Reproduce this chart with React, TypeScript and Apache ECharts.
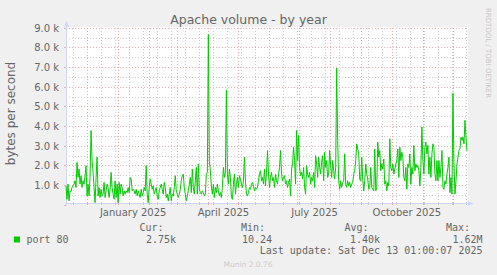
import { useEffect, useRef } from "react";
import * as echarts from "echarts";

// one value per day (bytes per second), starting 2024-11-10
const startDate = "2024-11-10";
const port80: number[] = [
  // Nov 10 2024 – Jan 16 2025
  970, 290, 1060, 210, 720, 680, 890, 970, 1060, 1230, 890, 2170, 1400, 1830, 1060, 1490, 890, 1230, 1060, 1490,
  2000, 460, 1060, 460, 1400, 3790, 2260, 1660, 890, 120, 1400, 2430, 460, 890, 380, 800, 460, 550, 1150, 380,
  720, 1060, 890, 380, 800, 1660, 890, 550, 290, 1230, 380, 1060, 120, 1150, 550, 1060, 890, 460, 720, 550,
  720, 630, 890, 630, 1400, 1320, 720, 800,
  // Jan 17 – Apr 1 2025
  720, 550, 800, 460, 720, 550, 380, 800, 460, 630, 890, 720, 2000, 550, 120, 890, 1320, 1060, 800, 970,
  550, 720, 890, 460, 290, 720, 890, 1060, 800, 550, 1150, 890, 380, 550, 210, 550, 890, 210, 550, 460,
  890, 1490, 720, 550, 380, 550, 800, 1230, 1490, 1570, 890, 550, 210, 460, 720, 1060, 1400, 630, 1830, 890,
  550, 1230, 1910, 550, 2090, 800, 630, 550, 720, 630, 460, 550, 1570, 1660, 8670,
  // Apr 2 – Jun 15 2025
  2260, 1740, 970, 550, 1060, 380, 890, 630, 1060, 720, 460, 630, 380, 890, 1910, 1400, 1660, 5850, 1570, 1060,
  1830, 1400, 380, 290, 1060, 1570, 550, 1060, 1400, 890, 1490, 1320, 1060, 890, 1230, 2430, 1230, 550, 460, 630,
  890, 800, 1060, 1150, 970, 720, 890, 800, 890, 1230, 1570, 1740, 1230, 1400, 1060, 1830, 970, 1660, 2770, 1570,
  890, 1400, 1660, 1230, 1400, 890, 1570, 1230, 1060, 1570, 1910, 2770, 1570, 1230, 1400,
  // Jun 16 – Aug 29 2025
  1490, 1060, 1230, 890, 1150, 1320, 460, 1830, 2090, 2940, 2260, 1060, 3790, 2260, 3540, 1910, 1490, 1660, 1320, 1910,
  890, 550, 2000, 1570, 1400, 1660, 1060, 1400, 1230, 1660, 890, 2510, 2090, 1400, 2430, 1910, 1570, 2170, 2510, 1230,
  2680, 1910, 2260, 1400, 1570, 2770, 2000, 1400, 2260, 1740, 1320, 1910, 6960, 3280, 1230, 800, 1230, 890, 1150, 1230,
  2600, 1060, 890, 1230, 970, 1150, 890, 1060, 1150, 1570, 1740, 2260, 3110, 2850, 2600,
  // Aug 30 – Oct 28 2025
  1320, 1230, 2430, 1320, 720, 1230, 2090, 1570, 1320, 800, 890, 1910, 890, 800, 720, 2850, 720, 890, 3200, 2430,
  2770, 1740, 2090, 1830, 2340, 1060, 1230, 720, 1150, 970, 3370, 1910, 1740, 2090, 1570, 1830, 2090, 2260, 2850, 1400,
  2940, 2260, 2680, 2430, 1400, 1230, 1910, 800, 2090, 1910, 2600, 1060, 1910, 1570, 3030, 1740, 2090, 1910, 2000, 1740,
  // Oct 29 – Dec 15 2025
  970, 1910, 3970, 2260, 1570, 2940, 3200, 2600, 3030, 1570, 2430, 1400, 2600, 3110, 2940, 1570, 1230, 2260, 1230, 2260,
  1400, 1910, 2770, 890, 800, 1230, 1060, 1570, 1910, 2430, 630, 1400, 550, 5680, 2090, 550, 1230, 2090, 2430, 2770,
  2850, 3450, 3280, 3450, 3110, 4310, 3450, 2750,
];

const quarterLabelDates = ["2025-01-16", "2025-04-16", "2025-07-16", "2025-10-16"];
const quarterLabels = ["January 2025", "April 2025", "July 2025", "October 2025"];
const statNames = ["Cur:", "Min:", "Avg:", "Max:"];
const statValues = ["2.75k", "10.24", "1.40k", "1.62M"];
const seriesName = "port 80";
const titleText = "Apache volume - by year";
const yAxisTitle = "bytes per second";
const lastUpdate = "Last update: Sat Dec 13 01:00:07 2025";
const credit = "RRDTOOL / TOBI OETIKER";
const version = "Munin 2.0.76";

const DAY = 86400000;
const t0 = Date.parse(startDate + "T00:00:00Z");
const days = port80.map((_, i) => new Date(t0 + i * DAY).toISOString().slice(0, 10));
const labelMap: Record<string, string> = {};
quarterLabelDates.forEach((d, i) => (labelMap[d] = quarterLabels[i]));
const isMonthStart = (i: number) => days[i] !== undefined && days[i].endsWith("-01");
const isBiweekly = (i: number) => i >= 7 && (i - 7) % 14 === 0;

const FONT = "DejaVu Sans";
const MONO = "DejaVu Sans Mono";
const AXIS = "#CFD6F8";
const MGRID = "#eeaaaa";
const GRID = "#cccccc";
const TEXT = "#666666";
const GREEN = "#00CC00";

export default function App() {
  const ref = useRef<HTMLDivElement>(null);
  useEffect(() => {
    if (!ref.current) return;
    const chart = echarts.init(ref.current, undefined, { renderer: "svg" });
    const statRight = [163.5, 265, 368.5, 470];
    const valRight = [176, 272, 380, 482.5];
    const graphic: any[] = [
      { type: "rect", z: -1, shape: { x: 66, y: 27, width: 402, height: 176 }, style: { fill: "#ffffff" } },
      { type: "line", z: 5, shape: { x1: 66.5, y1: 28, x2: 66.5, y2: 26 }, style: { stroke: AXIS, lineWidth: 1 } },
      { type: "polygon", z: 5, shape: { points: [[66.5, 21], [64, 26.5], [69, 26.5]] }, style: { fill: AXIS } },
      { type: "line", z: 5, shape: { x1: 466, y1: 203.5, x2: 468.5, y2: 203.5 }, style: { stroke: AXIS, lineWidth: 1 } },
      { type: "polygon", z: 5, shape: { points: [[468, 201], [468, 206], [473.5, 203.5]] }, style: { fill: AXIS } },
      { type: "text", x: 248.5, y: 19.5, style: { text: titleText, fill: TEXT, fontSize: 12.5, fontFamily: FONT, align: "center", verticalAlign: "middle" } },
      { type: "text", x: 11, y: 113.5, rotation: Math.PI / 2, style: { text: yAxisTitle, fill: TEXT, fontSize: 12, fontFamily: FONT, align: "center", verticalAlign: "middle" } },
      { type: "text", x: 488, y: 53, rotation: -Math.PI / 2, style: { text: credit, fill: "#c8c8c8", fontSize: 7, fontFamily: FONT, align: "center", verticalAlign: "middle" } },
      { type: "rect", shape: { x: 14, y: 236.5, width: 6, height: 6 }, style: { fill: GREEN } },
      { type: "text", x: 26.5, y: 239.5, style: { text: seriesName, fill: TEXT, fontSize: 10, fontFamily: MONO, align: "left", verticalAlign: "middle" } },
      { type: "text", x: 482.5, y: 250.7, style: { text: lastUpdate, fill: TEXT, fontSize: 10, fontFamily: MONO, align: "right", verticalAlign: "middle" } },
      { type: "text", x: 248, y: 264.5, style: { text: version, fill: "#cccccc", fontSize: 7.5, fontFamily: FONT, align: "center", verticalAlign: "middle" } },
    ];
    statNames.forEach((n, i) => {
      graphic.push({ type: "text", x: statRight[i], y: 227.6, style: { text: n, fill: TEXT, fontSize: 10, fontFamily: MONO, align: "right", verticalAlign: "middle" } });
      graphic.push({ type: "text", x: valRight[i], y: 239.5, style: { text: statValues[i], fill: TEXT, fontSize: 10, fontFamily: MONO, align: "right", verticalAlign: "middle" } });
    });

    chart.setOption({
      animation: false,
      backgroundColor: "#F0F0F0",
      grid: { left: 66, right: 30, top: 28, bottom: 70, containLabel: false },
      xAxis: [
        {
          type: "category",
          position: "bottom",
          data: days,
          boundaryGap: false,
          offset: -2,
          axisLine: { show: false },
          axisLabel: { show: false },
          axisTick: { show: true, length: 2, interval: (i: number) => isBiweekly(i), lineStyle: { color: GRID } },
          splitLine: { show: true, interval: (i: number) => isBiweekly(i), lineStyle: { color: GRID, width: 1, type: [1, 2] } },
        },
        {
          type: "category",
          position: "bottom",
          data: days,
          boundaryGap: false,
          offset: -2,
          axisLine: { show: true, lineStyle: { color: AXIS, width: 1 } },
          axisTick: { show: true, length: 2, interval: (i: number) => isMonthStart(i), lineStyle: { color: MGRID } },
          axisLabel: {
            show: true,
            interval: (i: number, v: string) => labelMap[v] !== undefined,
            formatter: (v: string) => labelMap[v] ?? "",
            margin: 4,
            fontSize: 10,
            color: TEXT,
            fontFamily: FONT,
          },
          splitLine: { show: true, interval: (i: number) => isMonthStart(i), lineStyle: { color: MGRID, width: 1, type: [1, 2] } },
        },
      ],
      yAxis: {
        type: "value",
        min: 0,
        max: 9000,
        interval: 1000,
        axisLine: { show: true, lineStyle: { color: AXIS, width: 1 } },
        axisTick: { show: true, length: 2, lineStyle: { color: MGRID } },
        axisLabel: {
          formatter: (v: number) => (v === 0 ? "" : (v / 1000).toFixed(1) + " k"),
          margin: 7,
          fontSize: 10,
          color: TEXT,
          fontFamily: FONT,
        },
        splitLine: { show: true, showMinLine: false, lineStyle: { color: MGRID, width: 1, type: [1, 2] } },
        minorTick: { show: false, splitNumber: 2 },
        minorSplitLine: { show: true, lineStyle: { color: GRID, width: 1, type: [1, 2] } },
      },
      series: [
        {
          type: "line",
          name: seriesName,
          data: port80,
          xAxisIndex: 1,
          symbol: "none",
          showSymbol: false,
          lineStyle: { color: GREEN, width: 1 },
          itemStyle: { color: GREEN },
          z: 3,
        },
      ],
      graphic,
    });
    return () => chart.dispose();
  }, []);
  return <div ref={ref} style={{ position: "fixed", left: 0, top: 0, width: 497, height: 275 }} />;
}
